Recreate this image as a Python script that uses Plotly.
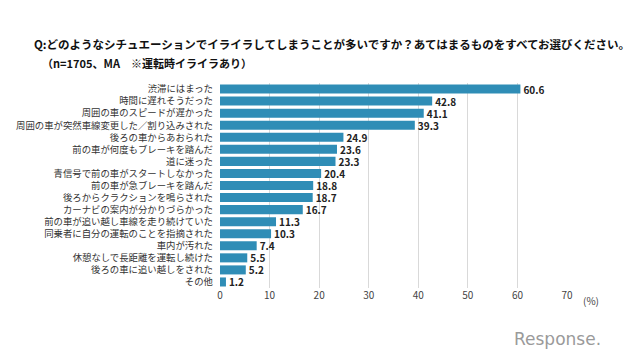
import plotly.graph_objects as go

categories = [
    "渋滞にはまった",
    "時間に遅れそうだった",
    "周囲の車のスピードが遅かった",
    "周囲の車が突然車線変更した／割り込みされた",
    "後ろの車からあおられた",
    "前の車が何度もブレーキを踏んだ",
    "道に迷った",
    "青信号で前の車がスタートしなかった",
    "前の車が急ブレーキを踏んだ",
    "後ろからクラクションを鳴らされた",
    "カーナビの案内が分かりづらかった",
    "前の車が追い越し車線を走り続けていた",
    "同乗者に自分の運転のことを指摘された",
    "車内が汚れた",
    "休憩なしで長距離を運転し続けた",
    "後ろの車に追い越しをされた",
    "その他",
]
values = [60.6, 42.8, 41.1, 39.3, 24.9, 23.6, 23.3, 20.4, 18.8, 18.7, 16.7, 11.3, 10.3, 7.4, 5.5, 5.2, 1.2]
tick_vals = [0, 10, 20, 30, 40, 50, 60, 70]

font = "Noto Sans CJK JP"

# page body has an 8px margin; work in window pixels and offset
OFF = 8
W, H = 640 - OFF, 359 - OFF
pl, pr, pt, pb = 220, 567, 83, 288  # plot area in window pixels
l, t = pl - OFF, pt - OFF
r, b = W - (pr - OFF), H - (pb - OFF)
pw, ph = W - l - r, H - t - b

def px2paper(px, py):
    return (px - OFF - l) / pw, 1 - (py - OFF - t) / ph

fig = go.Figure(go.Bar(
    x=values,
    y=categories,
    orientation="h",
    marker=dict(color="#2F8DB6", line=dict(width=0)),
    width=0.75,
    text=[f"<b>{v:.1f}</b>" for v in values],
    textposition="outside",
    constraintext="none",
    textfont=dict(family=font, size=10, color="#222222"),
    cliponaxis=False,
))

anns = []
def add_ann(text, px, py, size, color, xanchor="left", family=font):
    x, y = px2paper(px, py)
    anns.append(dict(text=text, x=x, y=y, xref="paper", yref="paper", showarrow=False,
                     font=dict(family=family, size=size, color=color),
                     xanchor=xanchor, yanchor="middle"))

add_ann("<b>Q:どのようなシチュエーションでイライラしてしまうことが多いですか？あてはまるものをすべてお選びください。</b>",
        32, 44, 11.5, "#111111")
add_ann("<b>（n=1705、MA　※運転時イライラあり）</b>", 40, 63, 11, "#111111")
add_ann("(%)", 591, 300, 10, "#444444", xanchor="center")
add_ann("Response.", 557, 339, 17, "#9A9A9A", xanchor="center", family="DejaVu Sans")

fig.update_layout(
    width=W, height=H,
    margin=dict(l=l, r=r, t=t, b=b, autoexpand=False),
    paper_bgcolor="white",
    plot_bgcolor="white",
    showlegend=False,
    font=dict(family=font),
    xaxis=dict(
        range=[0, 70],
        tickvals=tick_vals,
        showgrid=True,
        gridcolor="#D9D9D9",
        gridwidth=1,
        zeroline=False,
        tickfont=dict(family=font, size=10, color="#444444"),
        ticks="",
        automargin=False,
        fixedrange=True,
    ),
    yaxis=dict(
        autorange="reversed",
        tickfont=dict(family=font, size=9.4, color="#333333"),
        ticks="",
        ticklabelstandoff=6,
        showline=False,
        automargin=False,
    ),
    annotations=anns,
)

fig.write_html("out.html")
